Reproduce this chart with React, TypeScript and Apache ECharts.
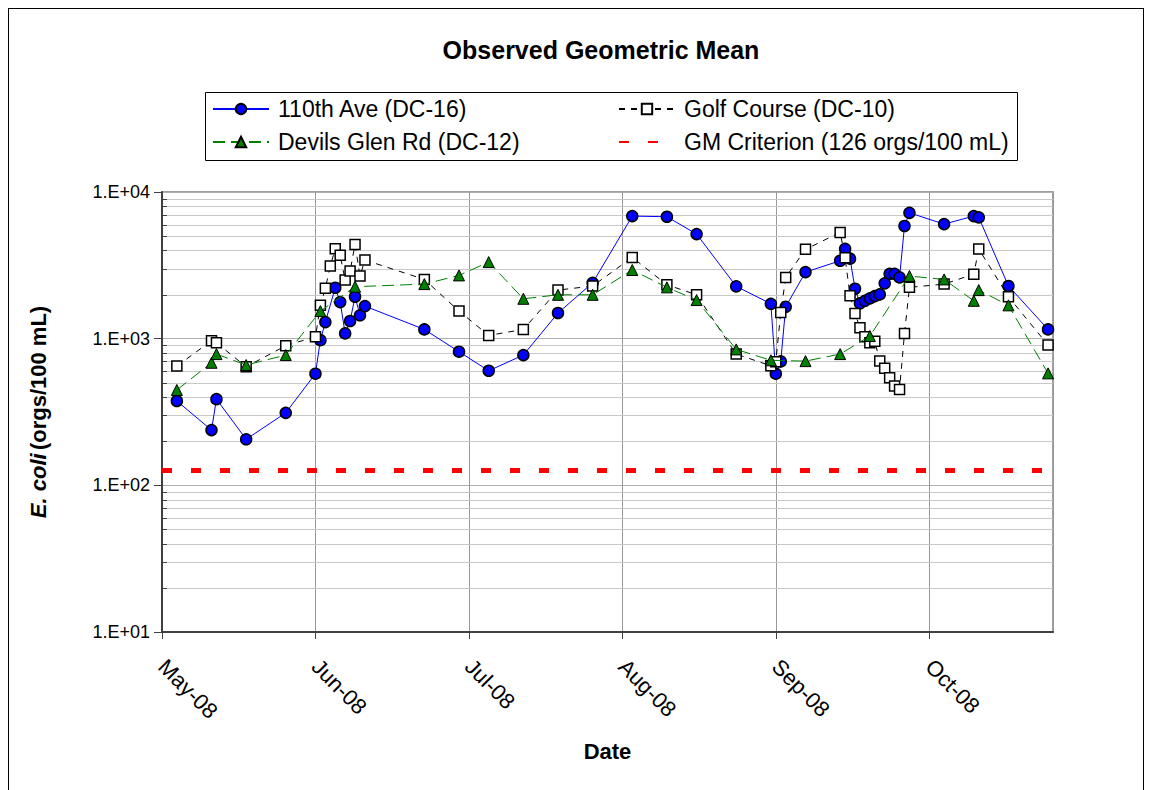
import React, { useEffect, useRef } from 'react';
import * as echarts from 'echarts';

const FONT = '"Liberation Sans", Arial, sans-serif';

// ---- axis definitions ----
const monthLabels = ['May-08', 'Jun-08', 'Jul-08', 'Aug-08', 'Sep-08', 'Oct-08'];
const yTickLabels = ['1.E+01', '1.E+02', '1.E+03', '1.E+04'];
const xAxisStart = '2008-05-01';
const xAxisEnd = '2008-10-28';
const monthTickDays = 31;
const minorGridValues = [20, 30, 40, 50, 60, 70, 80, 90, 200, 300, 400, 500, 600, 700, 800, 900, 2000, 3000, 4000, 5000, 6000, 7000, 8000, 9000];

// ---- series data ----
const ave110Dates = [
  '2008-05-04', '2008-05-11', '2008-05-12', '2008-05-18', '2008-05-26',
  '2008-06-01', '2008-06-02', '2008-06-03', '2008-06-05', '2008-06-06', '2008-06-07', '2008-06-08', '2008-06-09', '2008-06-10', '2008-06-11',
  '2008-06-23', '2008-06-30', '2008-07-06', '2008-07-13', '2008-07-20', '2008-07-27',
  '2008-08-04', '2008-08-11', '2008-08-17', '2008-08-25',
  '2008-09-01', '2008-09-02', '2008-09-03', '2008-09-04', '2008-09-08',
  '2008-09-15', '2008-09-16', '2008-09-17', '2008-09-18', '2008-09-19', '2008-09-20', '2008-09-21', '2008-09-22',
  '2008-09-23', '2008-09-24', '2008-09-25', '2008-09-26', '2008-09-27', '2008-09-28', '2008-09-29',
  '2008-10-06', '2008-10-12', '2008-10-13', '2008-10-19', '2008-10-27',
];
const ave110Values = [
  376, 238, 387, 206, 312,
  577, 977, 1297, 2223, 1775, 1086, 1319, 1932, 1443, 1667,
  1156, 815, 604, 773, 1496, 2404,
  6853, 6780, 5166, 2274,
  1729, 577, 700, 1648, 2844,
  3397, 4100, 3510, 2189, 1741, 1812, 1882, 1950,
  2004, 2383, 2767, 2767, 2617, 5866, 7212,
  6040, 6853, 6714, 2286, 1156,
];

const golfDates = [
  '2008-05-04', '2008-05-11', '2008-05-12', '2008-05-18', '2008-05-26',
  '2008-06-01', '2008-06-02', '2008-06-03', '2008-06-04', '2008-06-05', '2008-06-06', '2008-06-07', '2008-06-08', '2008-06-09', '2008-06-10', '2008-06-11',
  '2008-06-23', '2008-06-30', '2008-07-06', '2008-07-13', '2008-07-20', '2008-07-27',
  '2008-08-04', '2008-08-11', '2008-08-17', '2008-08-25',
  '2008-09-01', '2008-09-02', '2008-09-03', '2008-09-04', '2008-09-08',
  '2008-09-15', '2008-09-16', '2008-09-17', '2008-09-18', '2008-09-19', '2008-09-20', '2008-09-21', '2008-09-22',
  '2008-09-23', '2008-09-24', '2008-09-25', '2008-09-26', '2008-09-27', '2008-09-28', '2008-09-29',
  '2008-10-06', '2008-10-12', '2008-10-13', '2008-10-19', '2008-10-27',
];
const golfValues = [
  650, 968, 938, 643, 895,
  1031, 1687, 2203, 3126, 4100, 3700, 2508, 2890, 4393, 2673, 3436,
  2535, 1542, 1052, 1156, 2143, 2286,
  3582, 2330, 1991, 785,
  653, 697, 1510, 2617, 4063,
  5305, 3563, 1960, 1486, 1186, 1031, 938, 959,
  703, 628, 541, 475, 451, 1086, 2238,
  2355, 2754, 4083, 1932, 904,
];

const devilsDates = [
  '2008-05-04', '2008-05-11', '2008-05-12', '2008-05-18', '2008-05-26',
  '2008-06-02', '2008-06-09', '2008-06-23', '2008-06-30',
  '2008-07-06', '2008-07-13', '2008-07-20', '2008-07-27',
  '2008-08-04', '2008-08-11', '2008-08-17', '2008-08-25',
  '2008-09-01', '2008-09-08', '2008-09-15', '2008-09-21', '2008-09-29',
  '2008-10-06', '2008-10-12', '2008-10-13', '2008-10-19', '2008-10-27',
];
const devilsValues = [
  447, 685, 785, 661, 773,
  1542, 2261, 2355, 2700,
  3327, 1870, 1991, 1991,
  2938, 2238, 1833, 845,
  712, 703, 785, 1042, 2673,
  2535, 1812, 2143, 1687, 580,
];

const gmDates = ['2008-05-01', '2008-10-27'];
const gmValues = [126, 126];

const seriesNames = [
  '110th Ave (DC-16)',
  'Golf Course (DC-10)',
  'Devils Glen Rd (DC-12)',
  'GM Criterion (126 orgs/100 mL)',
];

const ORIGIN = Date.UTC(2008, 4, 1);
const dayOf = (s: string) => (Date.parse(s) - ORIGIN) / 86400000;
const pairs = (dates: string[], values: number[]) => dates.map((d, i) => [dayOf(d), values[i]]);

export default function App() {
  const ref = useRef<HTMLDivElement>(null);

  useEffect(() => {
    if (!ref.current) return;
    const chart = echarts.init(ref.current, undefined, { renderer: 'svg' });

    const legendText = { fontSize: 23, fontFamily: FONT, color: '#000', lineHeight: 24, padding: [0, 0, 0, 4] };
    const legendBase = {
      orient: 'vertical' as const,
      itemWidth: 56,
      itemHeight: 13,
      padding: 0,
      textStyle: legendText,
      selectedMode: false,
    };

    const option: any = {
      animation: false,
      backgroundColor: '#fff',
      title: {
        text: 'Observed Geometric Mean',
        left: 592,
        top: 28,
        padding: 0,
        textAlign: 'center',
        textStyle: { fontSize: 25, fontWeight: 'bold', fontFamily: FONT, color: '#000' },
      },
      legend: [
        { ...legendBase, left: 203, top: 88, data: [seriesNames[0]] },
        { ...legendBase, left: 203, top: 121, data: [seriesNames[2]] },
        { ...legendBase, left: 609, top: 88, data: [seriesNames[1]] },
        { ...legendBase, left: 609, top: 121, data: [{ name: seriesNames[3], itemStyle: { opacity: 0 } }] },
      ],
      graphic: [
        {
          type: 'rect',
          shape: { x: 196.5, y: 83.5, width: 812, height: 68 },
          style: { fill: 'none', stroke: '#000', lineWidth: 1 },
          silent: true,
        },
      ],
      grid: {
        left: 153,
        top: 183,
        width: 891,
        height: 440,
        show: true,
        borderColor: '#808080',
        borderWidth: 1.5,
        backgroundColor: 'transparent',
      },
      xAxis: {
        type: 'value',
        min: dayOf(xAxisStart),
        max: dayOf(xAxisEnd),
        interval: monthTickDays,
        name: 'Date',
        nameLocation: 'middle',
        nameGap: 108,
        nameTextStyle: { fontSize: 22, fontWeight: 'bold', fontFamily: FONT, color: '#000' },
        axisLine: { show: true, onZero: false, lineStyle: { color: '#404040', width: 2 } },
        axisTick: { show: true, length: 7, lineStyle: { color: '#404040', width: 1 } },
        axisLabel: {
          rotate: -45,
          margin: 31,
          fontSize: 22,
          fontFamily: FONT,
          color: '#000',
          showMaxLabel: false,
          formatter: (v: number) => {
            const i = v / monthTickDays;
            return Number.isInteger(i) && monthLabels[i] ? monthLabels[i] : '';
          },
        },
        splitLine: { show: true, lineStyle: { color: '#999999', width: 1 } },
      },
      yAxis: {
        type: 'log',
        logBase: 10,
        min: 10,
        max: 10000,
        name: '{i|E. coli} {b|(orgs/100 mL)}',
        nameLocation: 'middle',
        nameGap: 113,
        nameTextStyle: {
          rich: {
            i: { fontSize: 22, fontWeight: 'bold', fontStyle: 'italic', fontFamily: FONT, color: '#000' },
            b: { fontSize: 22, fontWeight: 'bold', fontFamily: FONT, color: '#000' },
          },
        },
        axisLine: { show: true, lineStyle: { color: '#404040', width: 2 } },
        axisTick: { show: true, length: 8, lineStyle: { color: '#404040', width: 1 } },
        axisLabel: {
          margin: 12,
          fontSize: 18,
          fontFamily: FONT,
          color: '#000',
          formatter: (v: number) => yTickLabels[Math.round(Math.log10(v)) - 1] ?? '',
        },
        splitLine: { show: true, lineStyle: { color: '#b0b0b0', width: 1 } },
      },
      series: [
        {
          type: 'custom',
          name: 'minor-grid',
          silent: true,
          z: 1,
          data: minorGridValues.map((v) => [dayOf(xAxisStart), v]),
          encode: { x: 0, y: 1 },
          renderItem: (params: any, api: any) => {
            const cs = params.coordSys;
            const y = Math.round(api.coord([api.value(0), api.value(1)])[1]) + 0.5;
            return {
              type: 'group',
              children: [
                { type: 'line', shape: { x1: cs.x, y1: y, x2: cs.x + cs.width, y2: y }, style: { stroke: '#c8c8c8', lineWidth: 1 } },
                { type: 'line', shape: { x1: cs.x, y1: y, x2: cs.x + 5, y2: y }, style: { stroke: '#404040', lineWidth: 1 } },
              ],
            };
          },
        },
        {
          name: seriesNames[0],
          type: 'line',
          data: pairs(ave110Dates, ave110Values),
          symbol: 'circle',
          symbolSize: 11,
          itemStyle: { color: '#0000ff', borderColor: '#000', borderWidth: 1.5 },
          lineStyle: { color: '#0000ff', width: 1 },
          z: 3,
        },
        {
          name: seriesNames[1],
          type: 'line',
          data: pairs(golfDates, golfValues),
          symbol: 'rect',
          symbolSize: 10,
          itemStyle: { color: '#ffffff', borderColor: '#000', borderWidth: 1.5 },
          lineStyle: { color: '#000', width: 1, type: [6, 6] },
          z: 4,
        },
        {
          name: seriesNames[2],
          type: 'line',
          data: pairs(devilsDates, devilsValues),
          symbol: 'triangle',
          symbolSize: 11,
          itemStyle: { color: '#008000', borderColor: '#000', borderWidth: 1 },
          lineStyle: { color: '#008000', width: 1, type: [12, 6] },
          z: 5,
        },
        {
          name: seriesNames[3],
          type: 'line',
          data: pairs(gmDates, gmValues),
          symbol: 'none',
          itemStyle: { color: '#ff0000' },
          lineStyle: { color: '#ff0000', width: 5, type: [10, 19], cap: 'butt' },
          z: 6,
        },
      ],
    };

    chart.setOption(option);
    return () => chart.dispose();
  }, []);

  return (
    <div style={{ position: 'fixed', left: 0, top: 0, width: 1151, height: 790, overflow: 'hidden', background: '#fff' }}>
      <div style={{ position: 'absolute', left: 8, top: 8, width: 1134, height: 800, border: '1px solid #000' }}>
        <div ref={ref} style={{ width: 1134, height: 800 }} />
      </div>
    </div>
  );
}
